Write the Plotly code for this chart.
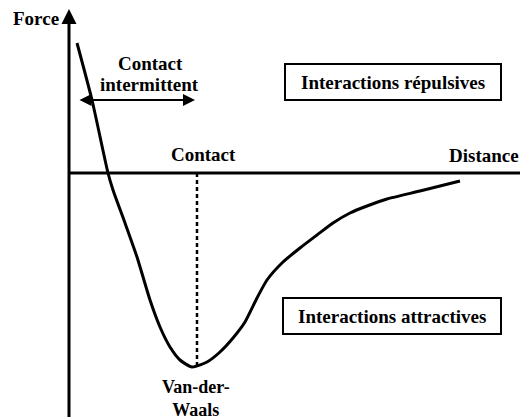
import plotly.graph_objects as go

# Force-distance curve (arbitrary units, origin at the axis crossing)
distance = [8, 23, 39, 44, 56, 68, 81, 91, 101, 111, 123, 138, 151, 164, 176, 188,
            198, 214, 231, 248, 264, 281, 298, 318, 351, 391]
force = [130, 73, 0, -17, -50, -84, -127, -154, -174, -187, -194, -189, -179, -165,
         -149, -125, -107, -89, -75, -62, -50, -40, -33, -26, -18, -8]

vdw_distance = 128
vdw_force = -194
contact_range = [9, 126]
contact_force = 73

FONT = dict(family="Liberation Serif", size=19, color="black", weight=700)

fig = go.Figure()
fig.add_trace(go.Scatter(x=distance, y=force, mode="lines",
                         line=dict(color="black", width=3, shape="spline", smoothing=0.6),
                         hoverinfo="skip"))

# dotted line at Van-der-Waals minimum
fig.add_trace(go.Scatter(x=[vdw_distance, vdw_distance], y=[0, vdw_force], mode="lines",
                         line=dict(color="black", width=2.5, dash="4px,3px"), hoverinfo="skip"))

shapes = [
    dict(type="line", x0=0, x1=470, y0=0, y1=0, line=dict(color="black", width=3)),
    dict(type="rect", x0=216, x1=432, y0=109, y1=73, line=dict(color="black", width=2)),
    dict(type="rect", x0=214, x1=432, y0=-125, y1=-161, line=dict(color="black", width=2)),
]

annotations = [
    # vertical axis with arrow
    dict(x=0, y=164, ax=0, ay=-252, xref="x", yref="y", axref="x", ayref="y", text="", showarrow=True,
         arrowhead=2, arrowsize=1, arrowwidth=3, arrowcolor="black", standoff=0),
    # double arrow for intermittent contact
    dict(x=contact_range[1], y=contact_force, ax=contact_range[0], ay=contact_force, xref="x", yref="y",
         axref="x", ayref="y", text="", showarrow=True, arrowhead=2, arrowsize=1.2, arrowwidth=2,
         arrowside="end+start", arrowcolor="black", standoff=0, startstandoff=0),
    dict(x=-33, y=155, text="Force", showarrow=False, font=FONT),
    dict(x=81, y=110, text="Contact", showarrow=False, font=FONT),
    dict(x=80, y=89, text="intermittent", showarrow=False, font=FONT),
    dict(x=134, y=19, text="Contact", showarrow=False, font=FONT),
    dict(x=415, y=18, text="Distance", showarrow=False, font=FONT),
    dict(x=324, y=91, text="Interactions répulsives", showarrow=False, font=FONT),
    dict(x=323, y=-143, text="Interactions attractives", showarrow=False, font=FONT),
    dict(x=127, y=-225, text="Van-der-<br>Waals", showarrow=False, font=dict(FONT, size=18)),
]

# the page puts the figure 8px in from the top-left corner, so the size and ranges allow for that
fig.update_layout(
    width=520, height=409,
    margin=dict(l=0, r=0, t=0, b=0),
    paper_bgcolor="white", plot_bgcolor="white",
    showlegend=False,
    shapes=shapes,
    annotations=annotations,
    xaxis=dict(range=[-61, 459], visible=False, fixedrange=True),
    yaxis=dict(range=[-244, 165], visible=False, fixedrange=True),
)

fig.write_html("out.html")
